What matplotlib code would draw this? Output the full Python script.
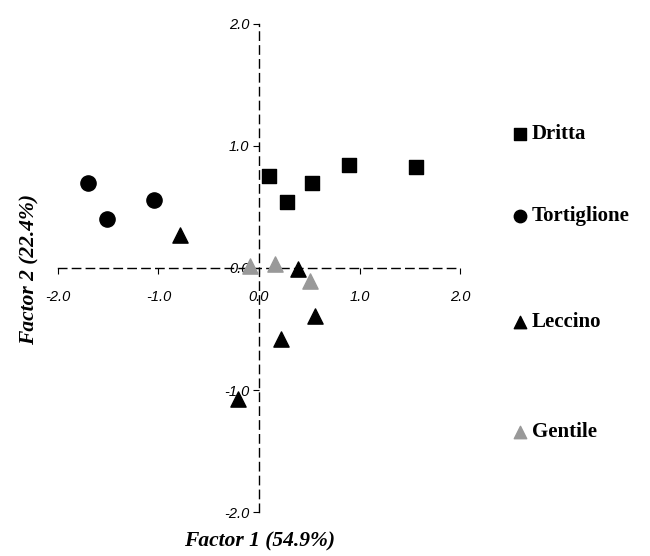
import matplotlib.pyplot as plt

# PCA scores
dritta_x = [0.10, 0.28, 0.53, 0.89, 1.56]
dritta_y = [0.75, 0.54, 0.70, 0.84, 0.83]
tort_x = [-1.70, -1.51, -1.04]
tort_y = [0.70, 0.40, 0.56]
leccino_x = [-0.79, 0.39, 0.56, 0.22, -0.21]
leccino_y = [0.27, -0.01, -0.39, -0.58, -1.07]
gentile_x = [-0.09, 0.16, 0.51]
gentile_y = [0.02, 0.03, -0.11]

ticks = [-2.0, -1.0, 0.0, 1.0, 2.0]
tick_labels = ['-2.0', '-1.0', '0.0', '1.0', '2.0']

groups = ['Dritta', 'Tortiglione', 'Leccino', 'Gentile']
markers = ['s', 'o', '^', '^']
colors = ['black', 'black', 'black', '#999999']

fig = plt.figure(figsize=(6.5, 5.56), dpi=100)
ax = fig.add_axes([0.089, 0.079, 0.619, 0.878])

ax.scatter(dritta_x, dritta_y, marker='s', s=110, color='black', zorder=3)
ax.scatter(tort_x, tort_y, marker='o', s=120, color='black', zorder=3)
ax.scatter(leccino_x, leccino_y, marker='^', s=120, color='black', zorder=3)
ax.scatter(gentile_x, gentile_y, marker='^', s=120, color='#999999', zorder=3)

ax.set_xlim(-2, 2)
ax.set_ylim(-2, 2)
for side in ['top', 'right']:
    ax.spines[side].set_visible(False)
for side in ['left', 'bottom']:
    ax.spines[side].set_position(('data', 0))
    ax.spines[side].set_linestyle((0, (6, 4)))
    ax.spines[side].set_linewidth(1.0)

tick_font = {'family': 'Liberation Sans', 'style': 'italic', 'size': 10.5}
ax.set_xticks(ticks)
ax.set_xticklabels(tick_labels, fontdict=tick_font)
ax.set_yticks(ticks)
ax.set_yticklabels(tick_labels, fontdict=tick_font)
ax.tick_params(axis='x', length=4, pad=12)
ax.tick_params(axis='y', length=4, pad=3)

label_font = {'family': 'Liberation Serif', 'style': 'italic', 'weight': 'bold', 'size': 15.5}
fig.text(0.40, 0.027, 'Factor 1 (54.9%)', ha='center', va='center', fontdict=label_font)
fig.text(0.045, 0.515, 'Factor 2 (22.4%)', ha='center', va='center', rotation=90,
         fontdict=label_font)

# legend drawn by hand to keep the uneven spacing
leg = fig.add_axes([0.77, 0.0, 0.23, 1.0])
leg.set_xlim(0, 1)
leg.set_ylim(556, 0)
leg.axis('off')
leg_y = [134, 216, 322, 432]
for name, m, c, yy in zip(groups, markers, colors, leg_y):
    leg.scatter([0.13], [yy], marker=m, s=80, color=c)
    leg.text(0.21, yy, name, va='center', ha='left', family='Liberation Serif',
             weight='bold', size=15)

fig.savefig('out.png', dpi=100)
